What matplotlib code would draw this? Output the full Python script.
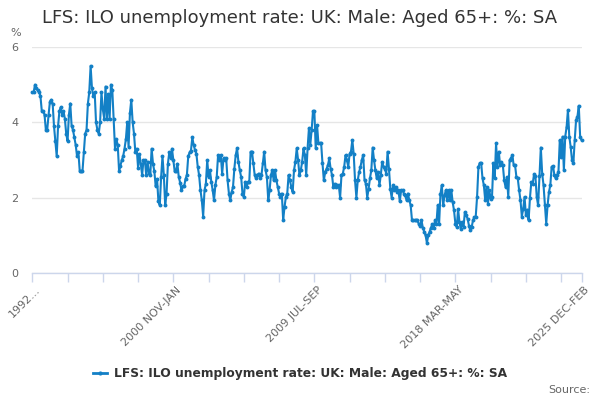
import matplotlib
matplotlib.use("Agg")
import matplotlib.pyplot as plt
import numpy as np

title = "LFS: ILO unemployment rate: UK: Male: Aged 65+: %: SA"
series_name = "LFS: ILO unemployment rate: UK: Male: Aged 65+: %: SA"

tick_labels = ["1992...", "2000 NOV-JAN", "2009 JUL-SEP", "2018 MAR-MAY", "2025 DEC-FEB"]
label_positions = [0, 104, 208, 312, 405]

values_a = [4.8, 4.8, 5.0, 4.9, 4.85, 4.8, 4.7, 4.3, 4.3, 4.2, 3.8, 3.8, 4.2, 4.55, 4.6,
            4.5, 3.9, 3.5, 3.1, 3.9, 4.3, 4.4, 4.2, 4.3, 4.1, 3.7, 3.5, 4.2, 4.5, 3.9,
            3.8, 3.6, 3.4, 3.1, 3.2, 2.7, 2.7, 2.7, 3.2, 3.7, 3.8, 4.5, 4.8, 5.5, 4.9,
            4.7, 4.8, 4.0, 3.8, 3.7, 4.0]
values_b = [4.8, 4.35, 4.1, 4.95, 4.1, 4.75, 4.1, 5.0, 4.85, 4.1, 3.3, 3.55, 3.4, 2.7,
            2.85, 3.0, 3.1, 3.3, 3.55, 4.0, 3.35, 4.25, 4.6, 4.0, 3.7, 3.2, 3.3, 2.8,
            3.15, 2.9, 2.6, 3.0, 3.0, 2.6, 2.95, 2.65, 2.6, 3.3, 2.9, 2.7, 2.3, 2.5,
            1.9, 1.8, 2.55, 3.1, 2.6, 1.8]
values_c = [2.1, 2.9, 3.2, 3.05, 3.3, 3.0, 2.7, 2.7, 2.9, 2.55, 2.4, 2.2, 2.3, 2.3, 2.5,
            2.6, 3.1, 3.2, 3.25, 3.6]
values_d = [3.4, 3.26, 3.17, 2.82, 2.6, 2.2, 1.93, 1.5, 2.2, 2.37, 3.0, 2.55, 2.73, 2.42,
            2.2, 1.93, 2.33, 2.55, 3.13, 3.0, 3.13, 2.64, 3.04, 3.0, 3.04, 2.46, 2.11,
            1.93, 2.15, 2.28, 2.77, 3.13, 3.31, 2.95, 2.73, 2.55, 2.11, 2.02, 2.42, 2.28,
            2.42, 2.42, 3.22, 3.22, 2.91, 2.6, 2.51, 2.6, 2.64, 2.51, 2.6, 2.91, 3.22,
            2.73, 2.55, 1.93, 2.2, 2.6, 2.73, 2.46, 2.73, 2.46, 2.28, 2.11, 2.02, 2.11,
            1.41, 1.75, 2.02, 2.11, 2.6, 2.46, 2.28, 2.15, 2.73, 2.95, 3.31, 3.0, 2.6,
            2.73, 2.95, 3.31, 3.13]
values_e = [2.6, 3.31, 3.84, 3.4, 3.8, 4.3, 4.3]
values_f = [3.31, 3.93, 3.44, 3.44, 3.44, 2.91, 2.46, 2.68, 2.77, 2.86, 3.04, 2.77, 2.6,
            2.28, 2.37, 2.28, 2.33, 2.33, 2.0, 2.6, 2.64, 2.82, 3.13, 3.0, 2.82, 3.17,
            3.22, 3.53, 3.17, 2.46, 2.0, 2.46, 2.68, 2.82, 3.0, 3.13, 2.46, 2.37, 2.0,
            2.24, 2.51, 2.73, 3.33, 3.0, 2.73, 2.51, 2.68, 2.33, 2.6, 2.95, 2.82, 2.77,
            2.64, 3.22]
values_g = [2.77, 2.24, 2.0, 2.33, 2.2, 2.28, 2.15, 2.2, 1.9, 2.2, 2.2, 2.11, 2.06, 1.93,
            2.11, 1.93, 1.8]
values_h = [1.4, 1.4, 1.4, 1.4, 1.4, 1.3, 1.25, 1.4, 1.2, 1.1, 1.0, 0.8, 1.0, 1.1, 1.2,
            1.3, 1.2, 1.4, 1.3, 1.8]
values_i = [1.31, 2.1, 2.33, 1.8, 2.06, 2.2, 1.93, 2.2, 1.93, 2.2, 1.88, 1.66, 1.31, 1.22,
            1.7, 1.35, 1.17, 1.35, 1.22, 1.62, 1.53, 1.44, 1.26, 1.13, 1.22, 1.4, 1.48,
            1.5, 2.02, 2.82, 2.92, 2.92, 2.51, 2.33, 1.93, 2.28, 1.84, 2.2, 1.97, 2.02,
            2.91, 2.51, 3.44, 2.82, 3.22, 2.86, 2.95, 2.86, 2.46, 2.28, 2.55, 2.02, 3.0,
            3.04, 3.13, 2.86, 2.86, 2.55, 2.51, 2.2, 1.93, 1.5, 1.7, 2.02, 1.53, 1.68,
            1.4, 2.0, 2.42, 2.37, 2.62, 2.57, 2.02, 1.8, 2.57, 3.33, 2.64, 2.33, 1.8,
            1.31, 1.8, 2.15, 2.33, 2.82, 2.84, 2.6, 2.51, 2.6, 2.68, 3.53, 3.08, 3.62,
            2.73, 3.62, 3.87, 4.33, 3.62, 3.35, 3.0, 2.91, 3.53, 4.06, 4.15, 4.44, 3.62,
            3.53]

values = (values_a + values_b + values_c + values_d + values_e + values_f + values_g
          + values_h + values_i)
x = np.arange(len(values))

line_color = "#1380c6"
text_color = "#333333"
label_color = "#666666"
axis_color = "#ccd6eb"
grid_color = "#e6e6e6"

fig = plt.figure(figsize=(6, 4), dpi=100)
ax = fig.add_axes([32.3 / 600, 1 - 273 / 400, (581.5 - 32.3) / 600, (273 - 47) / 400])

ax.plot(x, values, color=line_color, lw=1.5, marker="o", markersize=2.8,
        markeredgewidth=0, zorder=3, clip_on=False)

ax.set_xlim(0, len(values) - 1)
ax.set_ylim(0, 6)
ax.set_yticks([0, 2, 4, 6])
ax.set_yticklabels(["0", "2", "4", "6"])
ax.grid(axis="y", color=grid_color, lw=1)
ax.set_axisbelow(True)
for s in ["top", "right", "left"]:
    ax.spines[s].set_visible(False)
ax.spines["bottom"].set_color(axis_color)
ax.spines["bottom"].set_linewidth(1)

ax.tick_params(axis="y", length=0, labelsize=8, labelcolor=label_color, pad=10)

minor = list(range(0, len(values), 26)) + [len(values) - 1]
ax.set_xticks(minor)
ax.set_xticklabels([])
ax.tick_params(axis="x", length=6.8, color=axis_color, width=1, direction="out")

for pos, lab in zip(label_positions, tick_labels):
    ax.annotate(lab, xy=(pos, 0), xycoords=("data", "axes fraction"),
                xytext=(2, -8.5), textcoords="offset points",
                rotation=45, ha="right", va="top", rotation_mode="anchor",
                fontsize=8, color=label_color)

fig.text(0.5, 1 - 18 / 400, title, ha="center", va="center", fontsize=13,
         color=text_color)
fig.text(10 / 600, 1 - 33 / 400, "%", ha="left", va="center", fontsize=8,
         color=label_color)

# legend
ly = 1 - 373 / 400
fig.add_artist(plt.Line2D([93 / 600, 107 / 600], [ly, ly], color=line_color, lw=2,
                          transform=fig.transFigure))
fig.add_artist(plt.Line2D([100 / 600], [ly], color=line_color, marker="o",
                          markersize=3, markeredgewidth=0, transform=fig.transFigure))
fig.text(114 / 600, ly, series_name, ha="left", va="center", fontsize=8.8,
         fontweight="bold", color=text_color)

fig.text(590 / 600, 1 - 390 / 400, "Source:", ha="right", va="center", fontsize=8,
         color=label_color)

fig.savefig("out.png", dpi=100)
